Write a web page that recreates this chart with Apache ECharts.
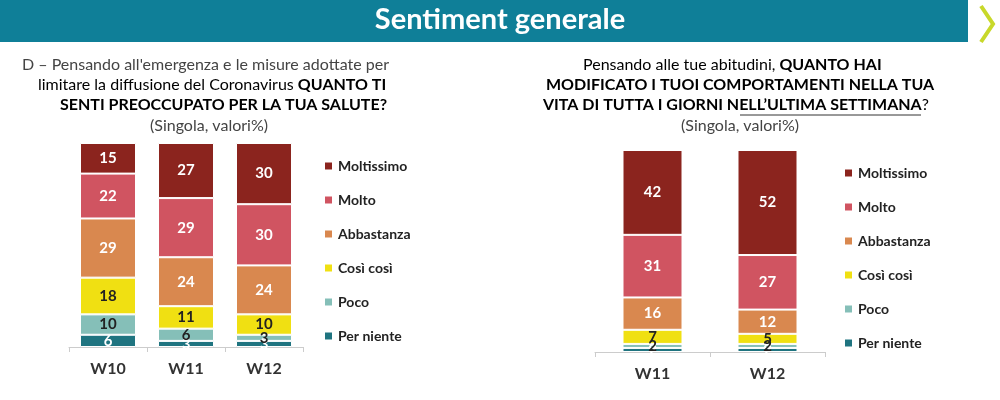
<!DOCTYPE html>
<html lang="it">
<head>
    <meta charset="UTF-8">
    <script src="https://cdn.jsdelivr.net/npm/echarts@6/dist/echarts.min.js"></script>
    <style>
        body { margin: 0; }
        #chart { width: 1000px; height: 400px; }
    </style>
</head>
<body>
    <div id="chart"></div>
    <script type="text/javascript">
        let levels = ['Moltissimo', 'Molto', 'Abbastanza', 'Così così', 'Poco', 'Per niente']
        let colors = ['#8B241E', '#D05461', '#D9884F', '#F0E012', '#85BFB8', '#1F7480']
        let labelColors = ['#fff', '#fff', '#fff', '#222', '#222', '#fff']
        let weeksLeft = ['W10', 'W11', 'W12']
        let weeksRight = ['W11', 'W12']
        // per livello, in ordine dall'alto (Moltissimo) al basso (Per niente)
        let leftMoltissimo = [15, 27, 30]
        let leftMolto = [22, 29, 30]
        let leftAbbastanza = [29, 24, 24]
        let leftCosi = [18, 11, 10]
        let leftPoco = [10, 6, 3]
        let leftNiente = [6, 3, 3]
        let rightMoltissimo = [42, 52]
        let rightMolto = [31, 27]
        let rightAbbastanza = [16, 12]
        let rightCosi = [7, 5]
        let rightPoco = [2, 2]
        let rightNiente = [2, 2]

        let leftData = [leftMoltissimo, leftMolto, leftAbbastanza, leftCosi, leftPoco, leftNiente]
        let rightData = [rightMoltissimo, rightMolto, rightAbbastanza, rightCosi, rightPoco, rightNiente]

        let font = 'Lato'
        let series = []
        for (let k = 5; k >= 0; k--) {
            series.push({
                name: levels[k], type: 'bar', stack: 'l', xAxisIndex: 0, yAxisIndex: 0,
                data: leftData[k], barWidth: 56, itemStyle: { color: colors[k], borderColor: '#fff', borderWidth: 1 },
                label: { show: true, color: labelColors[k], fontSize: 15, fontWeight: 'bold', fontFamily: font }
            })
            series.push({
                name: levels[k], type: 'bar', stack: 'r', xAxisIndex: 1, yAxisIndex: 1,
                data: rightData[k], barWidth: 60, itemStyle: { color: colors[k], borderColor: '#fff', borderWidth: 1 },
                label: { show: true, color: labelColors[k], fontSize: 15, fontWeight: 'bold', fontFamily: font }
            })
        }

        let legendBase = {
            data: levels, orient: 'vertical', itemWidth: 9, itemHeight: 9, itemGap: 20, icon: 'rect',
            textStyle: { fontFamily: font, fontSize: 14, fontWeight: 'bold', color: '#222' }
        }
        let axisX = (idx, data) => ({
            type: 'category', gridIndex: idx, data: data,
            axisLine: { lineStyle: { color: '#ccc' } }, axisTick: { show: true, lineStyle: { color: '#ccc' } },
            axisLabel: { fontFamily: font, fontSize: 16, fontWeight: 'bold', color: '#333', margin: 14 }
        })
        let axisY = (idx) => ({ type: 'value', gridIndex: idx, min: 0, max: 100, show: false })
        let rich = {
            n: { fontFamily: font, fontSize: 16, color: '#444', lineHeight: 20 },
            b: { fontFamily: font, fontSize: 16, color: '#333', fontWeight: 'bold', lineHeight: 20 }
        }

        let chart = echarts.init(document.getElementById('chart'))
        chart.setOption({
            animation: false,
            graphic: [
                { type: 'rect', shape: { x: 0, y: 0, width: 968, height: 42 }, style: { fill: '#0F7F98' } },
                { type: 'text', left: 'center', top: 5, style: { text: 'Sentiment generale', fill: '#fff', font: 'bold 29px Lato' } },
                { type: 'polyline', shape: { points: [[981, 6], [993, 24], [981, 42]] }, style: { stroke: '#C8D82A', lineWidth: 4, fill: null } },
                { type: 'text', left: 22, top: 57, style: { text: "D – Pensando all'emergenza e le misure adottate per", fill: '#444', font: '16px Lato' } },
                { type: 'text', left: 38, top: 77, style: { text: '{n|limitare la diffusione del Coronavirus }{b|QUANTO TI}', rich: rich } },
                { type: 'text', left: 60, top: 97, style: { text: '{b|SENTI PREOCCUPATO PER LA TUA SALUTE?}', rich: rich } },
                { type: 'text', left: 150, top: 118, style: { text: '(Singola, valori%)', fill: '#444', font: '16px Lato' } },
                { type: 'text', left: 583, top: 57, style: { text: '{n|Pensando alle tue abitudini, }{b|QUANTO HAI}', rich: rich } },
                { type: 'text', left: 546, top: 77, style: { text: '{b|MODIFICATO I TUOI COMPORTAMENTI NELLA TUA}', rich: rich } },
                { type: 'text', left: 543, top: 97, style: { text: '{b|VITA DI TUTTA I GIORNI NELL\u2019ULTIMA SETTIMANA}{n|?}', rich: rich } },
                { type: 'line', shape: { x1: 740, y1: 115, x2: 921, y2: 115 }, style: { stroke: '#333', lineWidth: 1 } },
                { type: 'text', left: 681, top: 118, style: { text: '(Singola, valori%)', fill: '#444', font: '16px Lato' } }
            ],
            legend: [
                Object.assign({ left: 318, top: 154 }, legendBase),
                Object.assign({ left: 838, top: 161 }, legendBase)
            ],
            grid: [
                { left: 69, width: 234, top: 143, height: 204 },
                { left: 595, width: 230, top: 150, height: 202 }
            ],
            xAxis: [axisX(0, weeksLeft), axisX(1, weeksRight)],
            yAxis: [axisY(0), axisY(1)],
            series: series
        })
    </script>
</body>
</html>
